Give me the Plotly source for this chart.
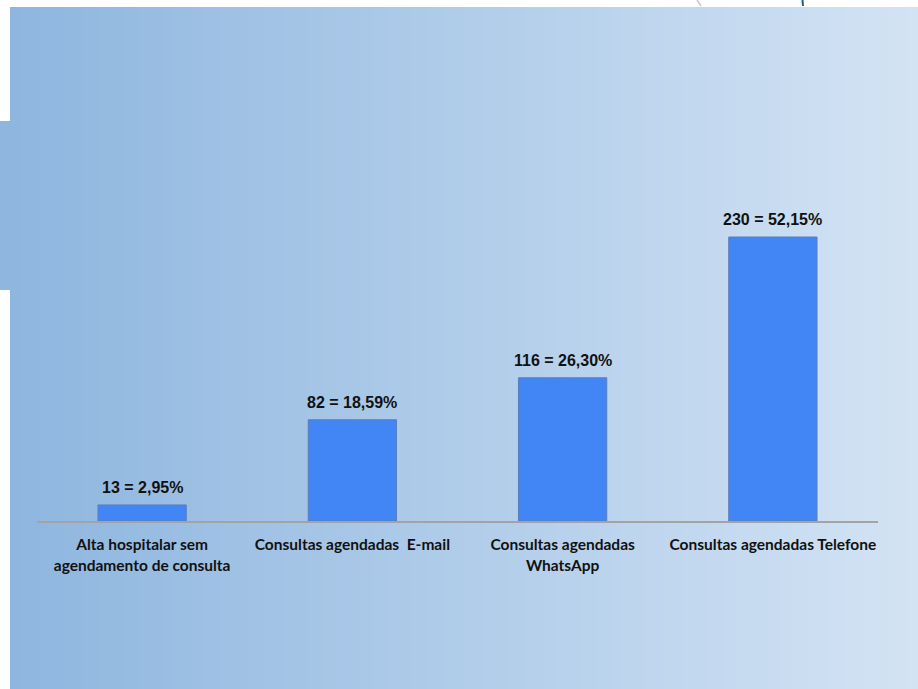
import plotly.graph_objects as go

categories = [
    "Alta hospitalar sem<br>agendamento de consulta",
    "Consultas agendadas\u00a0\u00a0E-mail",
    "Consultas agendadas<br>WhatsApp",
    "Consultas agendadas Telefone",
]
counts = [13, 82, 116, 230]
percents = ["2,95%", "18,59%", "26,30%", "52,15%"]
value_labels = [f"{c} = {p}" for c, p in zip(counts, percents)]

W, H = 918, 689
L, R, T, B = 37, 40, 100, 168
PW, PH = W - L - R, H - T - B


def px(x):
    return (x - L) / PW


def py(y):
    return (H - B - y) / PH


fig = go.Figure()

fig.add_trace(go.Bar(
    x=categories, y=counts,
    marker=dict(color="#4285F4", line=dict(color="#5B7FBF", width=1)),
    width=0.42,
    hoverinfo="skip",
))

for cat, val, lab in zip(categories, counts, value_labels):
    fig.add_annotation(
        x=cat, y=val, text=f"<b>{lab}</b>", showarrow=False,
        yanchor="bottom", yshift=7,
        font=dict(family="Liberation Sans, Arial", size=16, color="#111111"),
    )

# gradient background
shapes = []
n = 150
c0 = (0x8E, 0xB6, 0xDF)
c1 = (0xD3, 0xE3, 0xF4)
xs, xe = 10, W
for i in range(n):
    t = i / (n - 1)
    col = tuple(round(a + (b - a) * t) for a, b in zip(c0, c1))
    xa = xs + (xe - xs) * i / n
    xb = min(xs + (xe - xs) * (i + 1) / n + 1, xe)
    shapes.append(dict(type="rect", xref="paper", yref="paper", x0=px(xa), x1=px(xb),
                       y0=py(H), y1=py(7), line=dict(width=0),
                       fillcolor=f"rgb{col}", layer="below"))
shapes.append(dict(type="rect", xref="paper", yref="paper",
                   x0=px(0), x1=px(11), y0=py(290), y1=py(121),
                   line=dict(width=0), fillcolor="rgb(142,182,223)", layer="below"))
# small decorations at top-right
shapes.append(dict(type="line", xref="paper", yref="paper", x0=px(802.5), x1=px(803), y0=py(0), y1=py(6),
                   line=dict(color="#1F5F80", width=2), layer="above"))
shapes.append(dict(type="line", xref="paper", yref="paper", x0=px(697), x1=px(701), y0=py(0), y1=py(6),
                   line=dict(color="#C8C8C8", width=1.5), layer="above"))

ymax = PH / ((521 - 237) / 230)

fig.update_layout(
    width=W, height=H,
    margin=dict(l=L, r=R, t=T, b=B),
    paper_bgcolor="white",
    plot_bgcolor="rgba(0,0,0,0)",
    showlegend=False,
    shapes=shapes,
    xaxis=dict(
        showline=True, linecolor="#A3A3A3", linewidth=1.5,
        showgrid=False, zeroline=False,
        ticks="outside", ticklen=9, tickcolor="rgba(0,0,0,0)",
        tickfont=dict(family="Lato, Noto Sans", size=15.5, color="#111111", weight="bold"),
    ),
    yaxis=dict(range=[0, ymax], visible=False, showgrid=False, zeroline=False),
)

fig.write_html("out.html", config={"displayModeBar": False},
               post_script="document.body.style.margin='0';document.body.style.overflow='hidden';")
